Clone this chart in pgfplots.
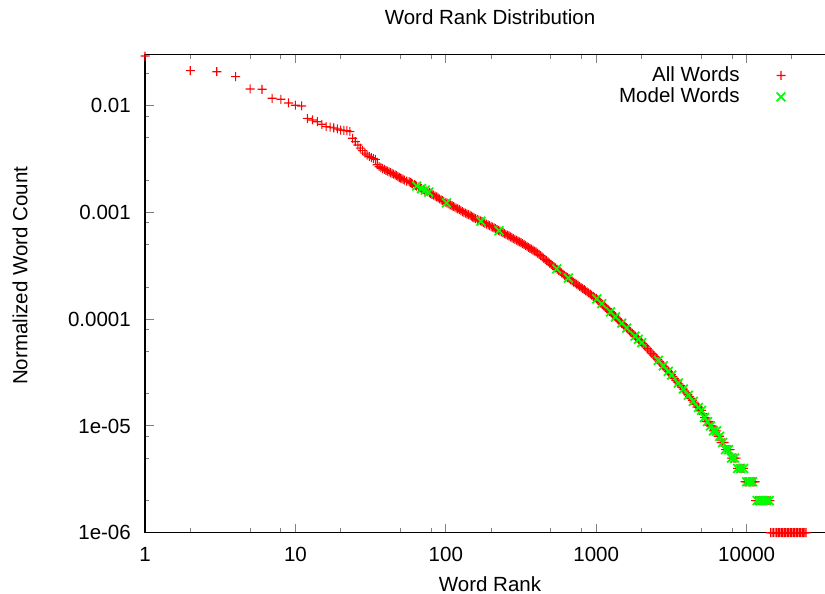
\documentclass[border=0pt]{standalone}
\usepackage{fontspec}
\setmainfont{Liberation Sans}
\usepackage{pgfplots}
\pgfplotsset{compat=1.18}
\definecolor{gpred}{rgb}{1,0,0}
\definecolor{gpgreen}{rgb}{0,1,0}
\makeatletter
\pgfdeclareplotmark{gpplus}{%
  \pgfsys@color@rgb@fill{1}{0}{0}%
  \pgfpathrectangle{\pgfqpoint{-\pgfplotmarksize}{-0.55pt}}{\pgfqpoint{2\pgfplotmarksize}{1.1pt}}%
  \pgfpathrectangle{\pgfqpoint{-0.55pt}{-\pgfplotmarksize}}{\pgfqpoint{1.1pt}{2\pgfplotmarksize}}%
  \pgfusepathqfill}
\pgfdeclareplotmark{gpcross}{%
  \pgfsys@color@rgb@stroke{0}{1}{0}%
  \pgfpathmoveto{\pgfqpoint{-.70710678\pgfplotmarksize}{-.70710678\pgfplotmarksize}}%
  \pgfpathlineto{\pgfqpoint{.70710678\pgfplotmarksize}{.70710678\pgfplotmarksize}}%
  \pgfpathmoveto{\pgfqpoint{-.70710678\pgfplotmarksize}{.70710678\pgfplotmarksize}}%
  \pgfpathlineto{\pgfqpoint{.70710678\pgfplotmarksize}{-.70710678\pgfplotmarksize}}%
  \pgfusepathqstroke}
\makeatother
\begin{document}
\fontsize{20.5}{24}\selectfont
\begin{tikzpicture}
\begin{axis}[
  at={(145pt,61.3pt)}, anchor=south west,
  scale only axis, width=690pt, height=478.4pt,
  xmode=log, ymode=log,
  xmin=1, xmax=38700, ymin=1e-6, ymax=0.0303,
  xtick={1,10,100,1000,10000}, xticklabels={1,10,100,1000,10000},
  ytick={1e-6,1e-5,1e-4,1e-3,1e-2}, yticklabels={1e-06,1e-05,0.0001,0.001,0.01},
  minor xtick={2,5,8,20,50,80,200,500,800,2000,5000,8000,20000},
  minor ytick={2e-6,5e-6,8e-6,2e-5,5e-5,8e-5,2e-4,5e-4,8e-4,2e-3,5e-3,8e-3,2e-2},
  tick align=inside, major tick length=9pt, minor tick length=4.5pt,
  tick style={line width=1pt},
  axis line style={line width=1.1pt},
  xticklabel style={anchor=base, inner sep=0pt, yshift=-29pt},
  yticklabel style={anchor=east, inner sep=0pt, xshift=-14pt},
  title={Word Rank Distribution},
  title style={at={(axis description cs:0.5,1)}, anchor=base, inner sep=0pt, yshift=23.8pt},
  xlabel={Word Rank},
  xlabel style={at={(axis description cs:0.5,0)}, anchor=base, inner sep=0pt, yshift=-58.5pt},
  ylabel={Normalized Word Count},
  ylabel style={at={(axis description cs:-0.1706,0.5372)}, anchor=base, inner sep=0pt},
  clip=false,
  legend plot pos=right,
  legend cell align=right,
  legend style={draw=none, fill=none, at={(axis description cs:0.9283,0.9745)}, anchor=north east, inner sep=0pt, outer sep=0pt, row sep=3.5pt, column sep=37pt, nodes={inner sep=0pt}},
  legend image code/.code={\draw[#1] plot coordinates {(0pt,0pt)};},
]
\addplot[only marks, color=gpred, fill=gpred, mark=gpplus, mark size=4.5pt] coordinates {
(1,0.0292)(2,0.0213)(3,0.0208)(4,0.0187)(5,0.01434)(6,0.01425)(7,0.01173)(8,0.01148)(9,0.0106)(10,0.0101)
(11,0.00994)(12,0.00762)(13,0.00735)(14,0.00708)(15,0.0067)(16,0.00636)(17,0.0063)(18,0.0062)(19,0.00605)(20,0.00592)
(21,0.00588)(22,0.00583)(23,0.00571)(24,0.00495)(25,0.0046)(26,0.00428)(27,0.0040)(28,0.0038)(29,0.0036)(30,0.00345)
(31,0.00335)(32,0.00326)(33,0.0032)(34,0.00314)(35,0.0028)(36,0.00268)(37,0.00263)(38,0.00258)(39,0.00253)(40,0.00248)
(41,0.00244)(42,0.0024)(43,0.00236)(44,0.00232)(45,0.002285)(46,0.00225)(47,0.00221)(48,0.00217)(49,0.002135)(50,0.0021)
(51,0.00207)(52,0.00204)(53,0.002005)(55,0.00197)(57,0.00194)(58,0.00191)(59,0.00188)(60,0.00185)(62,0.00182)(63,0.00179)
(64,0.00176)(66,0.00173)(68,0.0017)(69,0.00167)(71,0.001645)(72,0.00162)(74,0.00159)(76,0.00156)(78,0.001535)(79,0.00151)
(81,0.00148)(83,0.00145)(85,0.001425)(87,0.0014)(89,0.00137)(91,0.00134)(93,0.001315)(95,0.00129)(97,0.001265)(100,0.00124)
(102,0.00122)(105,0.0012)(107,0.00118)(110,0.00116)(112,0.00114)(115,0.00112)(117,0.0011)(120,0.00108)(123,0.00106)(126,0.00104)
(129,0.00102)(132,0.001)(135,0.000985)(138,0.000971)(141,0.000954)(145,0.000938)(148,0.000922)(151,0.000906)(154,0.00089)(158,0.000875)
(162,0.00086)(166,0.000846)(170,0.000832)(174,0.000819)(178,0.000805)(182,0.000792)(186,0.000779)(191,0.000766)(195,0.000753)(200,0.000741)
(204,0.000728)(209,0.000716)(214,0.000704)(219,0.000692)(224,0.00068)(229,0.000668)(234,0.000657)(240,0.000646)(245,0.000635)(251,0.000624)
(257,0.000613)(263,0.000602)(269,0.000591)(275,0.00058)(281,0.00057)(288,0.00056)(295,0.00055)(302,0.00054)(309,0.00053)(316,0.000521)
(323,0.000511)(331,0.000501)(339,0.000491)(347,0.000481)(355,0.000471)(363,0.000462)(371,0.000453)(380,0.000444)(389,0.000435)(398,0.000427)
(407,0.000416)(417,0.000405)(427,0.000394)(437,0.000384)(447,0.000374)(457,0.000364)(468,0.000354)(479,0.000345)(490,0.000336)(501,0.000327)
(513,0.000318)(525,0.00031)(537,0.000302)(550,0.000294)(562,0.000286)(575,0.000279)(589,0.000272)(603,0.000265)(617,0.000258)(631,0.000251)
(646,0.0002455)(661,0.00024)(676,0.000234)(692,0.000228)(708,0.000223)(724,0.000218)(741,0.000213)(759,0.000208)(776,0.000203)(794,0.000198)
(813,0.0001935)(832,0.000189)(851,0.0001845)(871,0.00018)(891,0.000176)(912,0.000172)(933,0.000168)(955,0.000164)(977,0.0001605)(1000,0.000157)
(1023,0.000152)(1047,0.000147)(1071,0.0001425)(1096,0.000138)(1122,0.000134)(1148,0.00013)(1175,0.000126)(1202,0.000122)(1230,0.0001185)(1259,0.000115)
(1288,0.0001115)(1318,0.000108)(1349,0.0001045)(1380,0.000101)(1413,9.78e-5)(1445,9.46e-5)(1479,9.16e-5)(1514,8.87e-5)(1549,8.59e-5)(1585,8.32e-5)
(1622,8.07e-5)(1660,7.82e-5)(1698,7.58e-5)(1738,7.35e-5)(1778,7.12e-5)(1820,6.9e-5)(1862,6.69e-5)(1905,6.49e-5)(1950,6.29e-5)(1995,6.1e-5)
(2042,5.89e-5)(2089,5.69e-5)(2138,5.5e-5)(2188,5.31e-5)(2239,5.13e-5)(2291,4.95e-5)(2344,4.78e-5)(2399,4.62e-5)(2455,4.47e-5)(2512,4.32e-5)
(2570,4.17e-5)(2630,4.02e-5)(2692,3.88e-5)(2754,3.74e-5)(2818,3.61e-5)(2884,3.48e-5)(2951,3.36e-5)(3020,3.24e-5)(3090,3.13e-5)(3162,3.02e-5)
(3236,2.9e-5)(3311,2.79e-5)(3388,2.68e-5)(3467,2.58e-5)(3548,2.48e-5)(3631,2.39e-5)(3715,2.3e-5)(3802,2.21e-5)(3890,2.12e-5)(3981,2.04e-5)
(4074,1.96e-5)(4169,1.88e-5)(4266,1.81e-5)(4365,1.74e-5)(4467,1.67e-5)(4571,1.6e-5)(4677,1.5e-5)(4786,1.5e-5)(4898,1.4e-5)(5012,1.4e-5)
(5129,1.3e-5)(5248,1.2e-5)(5370,1.1e-5)(5495,1.1e-5)(5623,1.1e-5)(5754,1e-5)(5888,1e-5)(6026,9e-6)(6166,9e-6)(6310,9e-6)
(6457,8e-6)(6607,8e-6)(6761,7e-6)(6918,7e-6)(7079,7e-6)(7244,6e-6)(7413,6e-6)(7586,6e-6)(7762,6e-6)(7943,5e-6)
(8128,5e-6)(8318,5e-6)(8511,5e-6)(8710,4e-6)(8913,4e-6)(9120,4e-6)(9333,4e-6)(9550,4e-6)(9760,3e-6)(10000,3e-6)
(10233,3e-6)(10471,3e-6)(10715,3e-6)(10965,3e-6)(11170,3e-6)(11370,3e-6)(11482,2e-6)(11749,2e-6)(12023,2e-6)(12303,2e-6)
(12589,2e-6)(12882,2e-6)(13183,2e-6)(13490,2e-6)(13804,2e-6)(14050,2e-6)(14300,2e-6)(14454,1e-6)(14785,1e-6)(15136,1e-6)
(15488,1e-6)(15849,1e-6)(16218,1e-6)(16596,1e-6)(16982,1e-6)(17378,1e-6)(17783,1e-6)(18197,1e-6)(18621,1e-6)(19055,1e-6)
(19498,1e-6)(19953,1e-6)(20417,1e-6)(20893,1e-6)(21380,1e-6)(21878,1e-6)(22387,1e-6)(22909,1e-6)(23442,1e-6)(23988,1e-6)
(24406,1e-6)(24831,1e-6)
};
\addlegendentry{All Words}
\addplot[only marks, color=gpgreen, mark=gpcross, mark size=6.2pt, line width=1.8pt] coordinates {
(64,0.00177)(69,0.00167)(73,0.00162)(77,0.00155)(101,0.00123)(171,0.000827)(226,0.000676)(546,0.000296)(652,0.000243)(1008,0.000155)
(1088,0.00014)(1245,0.000117)(1344,0.000105)(1477,9.18e-5)(1595,8.25e-5)(1811,6.95e-5)(1905,6.49e-5)(2007,6.04e-5)(2588,4.12e-5)(2793,3.66e-5)
(3016,3.25e-5)(3177,3e-5)(3516,2.52e-5)(3794,2.22e-5)(4096,1.94e-5)(4422,1.7e-5)(4775,1.49e-5)(5012,1.4e-5)(5248,1.2e-5)(5495,1.1e-5)
(5754,1e-5)(6026,9e-6)(6310,9e-6)(6607,8e-6)(6918,7e-6)(7244,6e-6)(7586,6e-6)(7943,5e-6)(8318,5e-6)(8710,4e-6)
(9120,4e-6)(9550,4e-6)(10000,3e-6)(10471,3e-6)(10965,3e-6)(11749,2e-6)(12303,2e-6)(12882,2e-6)(13490,2e-6)(14125,2e-6)
};
\addlegendentry{Model Words}
\end{axis}
\pgfresetboundingbox
\useasboundingbox (0,0) rectangle (825pt,594pt);
\end{tikzpicture}
\end{document}
